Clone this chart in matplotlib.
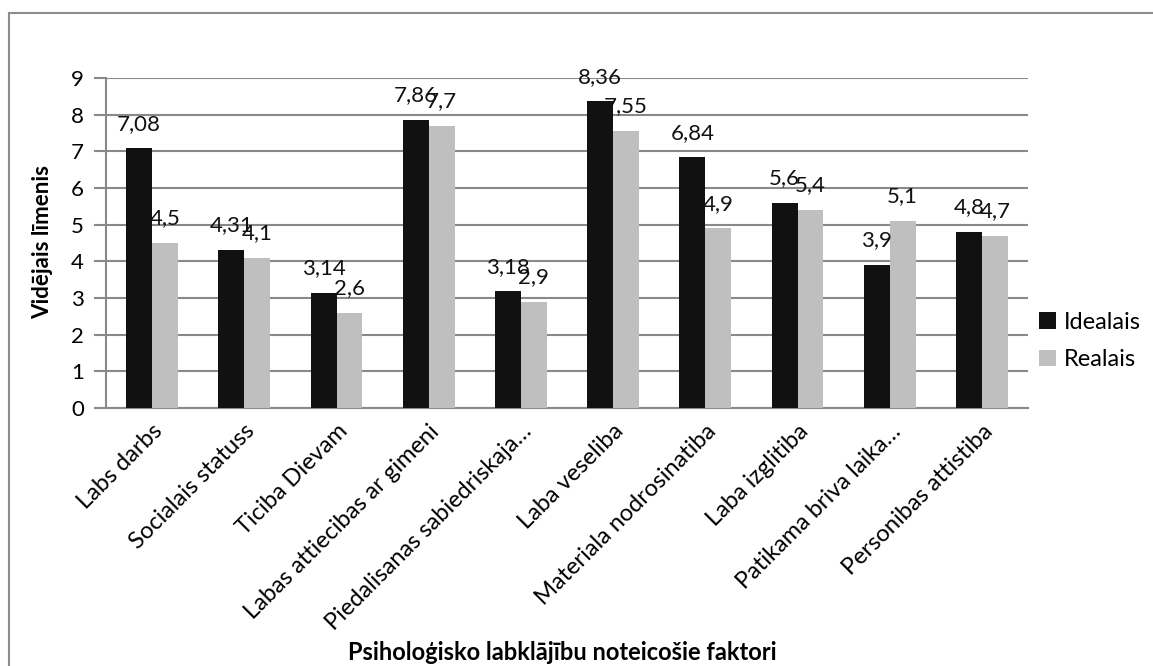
import matplotlib
matplotlib.use("Agg")
import matplotlib.pyplot as plt
from matplotlib.lines import Line2D
import numpy as np

categories = ["Labs darbs", "Socialais statuss", "Ticiba Dievam",
              "Labas attiecibas ar gimeni", "Piedalisanas sabiedriskaja…",
              "Laba veseliba", "Materiala nodrosinatiba", "Laba izglitiba",
              "Patikama briva laika…", "Personibas attistiba"]
idealais = [7.08, 4.31, 3.14, 7.86, 3.18, 8.36, 6.84, 5.6, 3.9, 4.8]
realais = [4.5, 4.1, 2.6, 7.7, 2.9, 7.55, 4.9, 5.4, 5.1, 4.7]
series_names = ["Idealais", "Realais"]
y_ticks = [0, 1, 2, 3, 4, 5, 6, 7, 8, 9]

plt.rcParams['font.family'] = ['Lato', 'DejaVu Sans']

W, H = 1153, 666
fig = plt.figure(figsize=(W / 100, H / 100), dpi=100)
ax = fig.add_axes([106 / W, 1 - 408 / H, (1028 - 106) / W, (408 - 78) / H])

x = np.arange(len(categories))
bw = 0.28
grid_c = "#898989"
b1 = ax.bar(x - bw / 2, idealais, bw, color="#111111", label=series_names[0], zorder=3)
b2 = ax.bar(x + bw / 2, realais, bw, color="#bfbfbf", label=series_names[1], zorder=3)

def fmt(v):
    return ("%g" % v).replace(".", ",")

for xs, vals in ((x - bw / 2, idealais), (x + bw / 2, realais)):
    for xi, v in zip(xs, vals):
        ax.annotate(fmt(v), (xi, v), xytext=(0, 10.5), textcoords="offset points",
                    ha="center", va="bottom", fontsize=16, color="#111111", zorder=4)

ax.set_xlim(-0.5, len(categories) - 0.5)
ax.set_ylim(0, 9)
ax.set_yticks(y_ticks)
ax.set_yticklabels([str(t) for t in y_ticks], fontsize=16)
ax.yaxis.grid(True, color=grid_c, linewidth=1.5, zorder=0)
ax.set_axisbelow(True)
ax.tick_params(axis="y", length=9, width=1.5, color=grid_c, pad=7)
ax.tick_params(axis="x", length=0, pad=9)
ax.set_xticks(x)
ax.set_xticklabels(categories, rotation=45, ha="right", va="top",
                   rotation_mode="anchor", fontsize=17)
for s in ("top", "right"):
    ax.spines[s].set_visible(False)
ax.spines["left"].set_color(grid_c)
ax.spines["bottom"].set_color(grid_c)
ax.spines["left"].set_linewidth(1.5)
ax.spines["bottom"].set_linewidth(1.5)

fig.text(43 / W, 1 - 242 / H, "Vidējais līmenis", rotation=90, ha="center",
         va="center", fontsize=16, fontweight="bold")
fig.text(562 / W, 1 - 652 / H, "Psiholoģisko labklājību noteicošie faktori",
         ha="center", va="center", fontsize=17, fontweight="bold")

leg = fig.legend(handles=[b1, b2], loc="center left",
                 bbox_to_anchor=(1030 / W, 1 - 341 / H), frameon=False,
                 fontsize=17, handlelength=0.7, handleheight=0.7,
                 handletextpad=0.35, labelspacing=0.7, borderaxespad=0)

# outer chart border
fig.add_artist(Line2D([9 / W, 9 / W], [0, 1 - 13 / H], color="#8c8c8c", lw=1.5))
fig.add_artist(Line2D([9 / W, 1], [1 - 13 / H, 1 - 13 / H], color="#8c8c8c", lw=1.5))

fig.savefig("out.png", dpi=100)
